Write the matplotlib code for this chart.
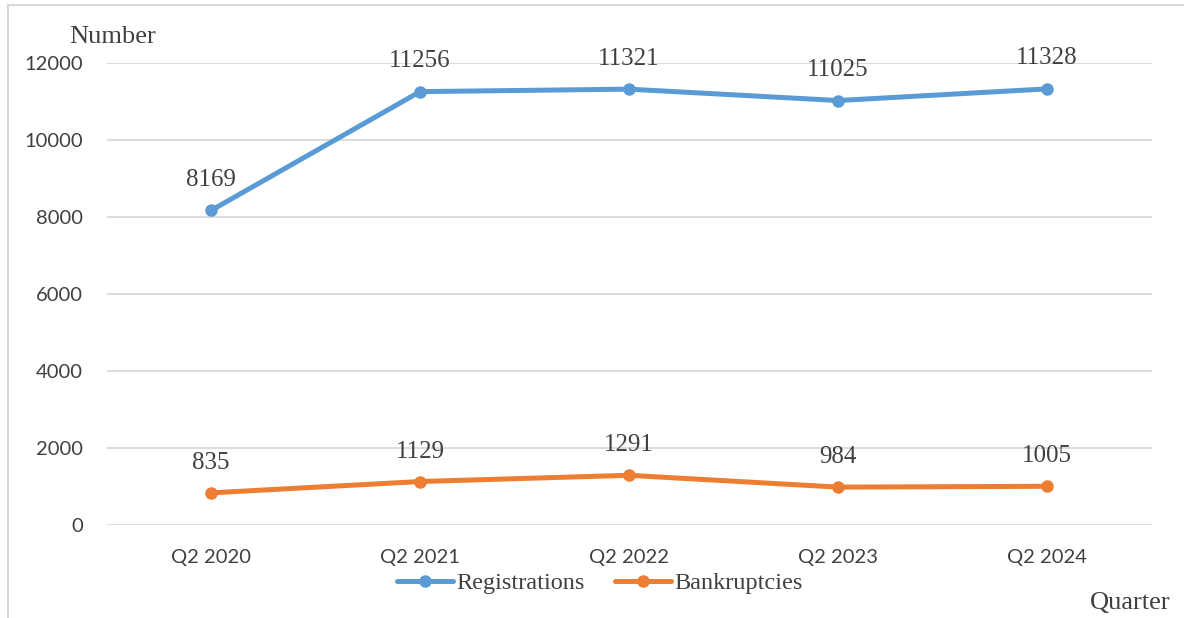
import matplotlib.pyplot as plt
from matplotlib.patches import Rectangle

quarters = ["Q2 2020", "Q2 2021", "Q2 2022", "Q2 2023", "Q2 2024"]
registrations = [8169, 11256, 11321, 11025, 11328]
bankruptcies = [835, 1129, 1291, 984, 1005]
yticks = [0, 2000, 4000, 6000, 8000, 10000, 12000]

blue = "#5B9BD5"
orange = "#ED7D31"
txt = "#404040"
serif = ["Liberation Serif", "DejaVu Serif"]
sans = ["Lato", "DejaVu Sans"]

fig = plt.figure(figsize=(11.84, 6.18), dpi=100)
ax = fig.add_axes([106.5 / 1184, 1 - 525 / 618, 1045 / 1184, 462 / 618])

# outer chart frame (partly cut off at the right and bottom)
fig.patches.append(Rectangle((8 / 1184, -0.1), 1.2, 1 - 5 / 618 + 0.1,
                             transform=fig.transFigure, fill=False,
                             edgecolor="#d9d9d9", linewidth=1.5))

x = range(len(quarters))
ax.plot(x, registrations, color=blue, lw=3.6, marker="o", ms=8,
        label="Registrations", solid_capstyle="round")
ax.plot(x, bankruptcies, color=orange, lw=3.6, marker="o", ms=8,
        label="Bankruptcies", solid_capstyle="round")

for i in x:
    ax.annotate(str(registrations[i]), (i, registrations[i]), xytext=(0, 22),
                textcoords="offset points", ha="center", va="center",
                fontsize=18, family=serif, color=txt)
    ax.annotate(str(bankruptcies[i]), (i, bankruptcies[i]), xytext=(0, 21.5),
                textcoords="offset points", ha="center", va="center",
                fontsize=18, family=serif, color=txt)

ax.set_xlim(-0.5, len(quarters) - 0.5)
ax.set_ylim(0, 12000)
ax.set_yticks(yticks)
ax.set_xticks(list(x))
ax.set_xticklabels(quarters)
ax.grid(axis="y", color="#d9d9d9", lw=1.3)
ax.set_axisbelow(True)
for s in ax.spines.values():
    s.set_visible(False)
ax.tick_params(length=0, labelsize=14.5, labelcolor=txt)
ax.tick_params(axis="y", pad=17)
ax.tick_params(axis="x", pad=17)
for lab in ax.get_xticklabels() + ax.get_yticklabels():
    lab.set_family(sans)

fig.text(113 / 1184, 1 - 37 / 618, "Number", ha="center", va="center",
         fontsize=19, family=serif, color=txt)
fig.text(1130 / 1184, 1 - 603 / 618, "Quarter", ha="center", va="center",
         fontsize=19, family=serif, color=txt)

leg = fig.legend(loc="center", bbox_to_anchor=(600 / 1184, 1 - 583 / 618),
                 ncol=2, frameon=False, prop={"family": serif, "size": 17.5},
                 handlelength=2.3, handletextpad=0.15, columnspacing=1.25,
                 borderaxespad=0)
for t in leg.get_texts():
    t.set_color(txt)

fig.savefig("out.png", dpi=100)
